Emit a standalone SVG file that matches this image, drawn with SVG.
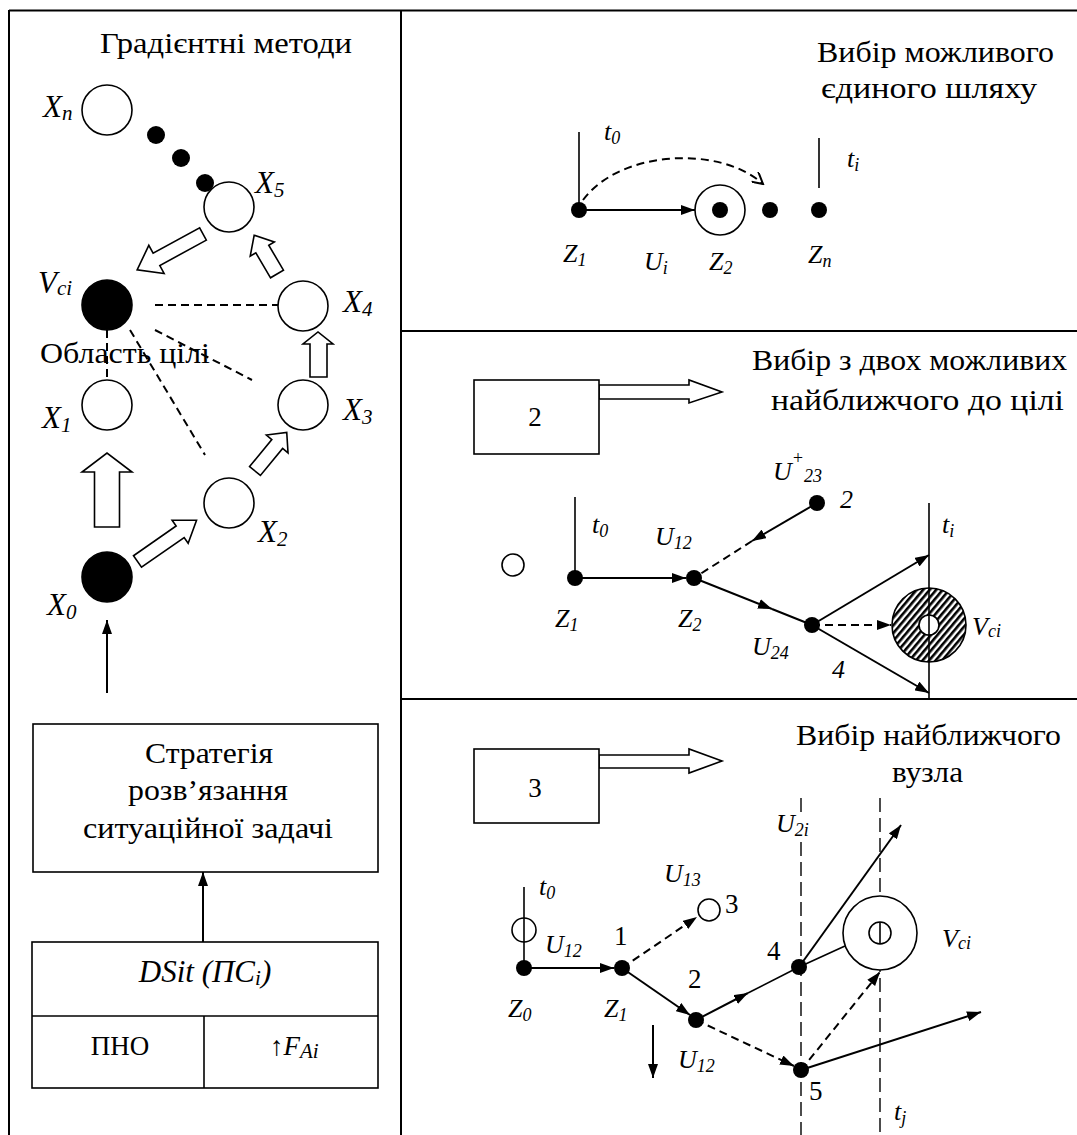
<svg xmlns="http://www.w3.org/2000/svg" width="1077" height="1135" viewBox="0 0 1077 1135">
<style>
.t{font-family:'Liberation Serif','Times New Roman',serif;font-size:30px;fill:#000}
.l{font-family:'Liberation Serif','Times New Roman',serif;font-size:26px;font-style:italic;fill:#000}
.lx{font-family:'Liberation Serif','Times New Roman',serif;font-size:31px;font-style:italic;fill:#000}
.n{font-family:'Liberation Serif','Times New Roman',serif;font-size:27px;fill:#000}
.s{font-size:18px}
.sx{font-size:21px}
.c{fill:#fff;stroke:#000;stroke-width:1.6}
.f{fill:#000;stroke:#000;stroke-width:1.6}
.d{fill:#000}
.ln{stroke:#000;stroke-width:1.6;fill:none}
.ar{stroke:#000;stroke-width:2;fill:none}
.ds{stroke:#000;stroke-width:2;fill:none;stroke-dasharray:8 5}
.vd{stroke:#000;stroke-width:1.4;fill:none;stroke-dasharray:14 6}
.blk{fill:#fff;stroke:#000;stroke-width:1.6;stroke-linejoin:miter}
.fr{stroke:#000;stroke-width:2;fill:none}
</style>
<defs>
<marker id="ah" viewBox="0 0 14 10" refX="14" refY="5" markerWidth="14" markerHeight="10" orient="auto" markerUnits="userSpaceOnUse"><path d="M0,0 L14,5 L0,10 z" fill="#000"/></marker>
<marker id="oh" viewBox="0 0 14 12" refX="12" refY="6" markerWidth="14" markerHeight="12" orient="auto" markerUnits="userSpaceOnUse"><path d="M0,0 L12,6 L2,12" fill="none" stroke="#000" stroke-width="2"/></marker>
<pattern id="hatch" width="5" height="5" patternUnits="userSpaceOnUse" patternTransform="rotate(40)"><rect width="5" height="5" fill="#fff"/><rect width="2.6" height="5" fill="#000"/></pattern>
</defs>

<g id="frame">
<path class="fr" d="M9,10.5 H1077 M9,10 V1135 M401,10 V1135 M401,331 H1077 M401,699 H1077"/>
</g>

<g id="left-title"><text class="t" x="100" y="53" textLength="252" lengthAdjust="spacingAndGlyphs">Градієнтні методи</text></g>

<g id="connectors">
<line class="ds" x1="155" y1="305" x2="278" y2="305"/>
<line class="ds" x1="107" y1="330" x2="107" y2="380"/>
<line class="ds" x1="130" y1="330" x2="205" y2="455"/>
<line class="ds" x1="155" y1="330" x2="252" y2="380"/>
<polygon class="blk" transform="translate(203,234) rotate(151.4)" points="0,-7 53,-7 53,-16 75,0 53,16 53,7 0,7"/>
<polygon class="blk" transform="translate(277,274) rotate(-120.5)" points="0,-7.5 29,-7.5 29,-14 45,0 29,14 29,7.5 0,7.5"/>
<polygon class="blk" points="310,377 310,344 303,344 318,332 333,344 327,344 327,377"/>
<polygon class="blk" points="94.5,527 94.5,472 82,472 107,453 132,472 119.5,472 119.5,527"/>
<polygon class="blk" transform="translate(137.5,561.5) rotate(-34.9)" points="0,-7 52,-7 52,-14 72,0 52,14 52,7 0,7"/>
<polygon class="blk" transform="translate(255,471) rotate(-50.6)" points="0,-7 35,-7 35,-14 50,0 35,14 35,7 0,7"/>
<line class="ar" x1="107" y1="693" x2="107" y2="620" marker-end="url(#ah)"/>
<line class="ar" x1="203" y1="942" x2="203" y2="872" marker-end="url(#ah)"/>
<line class="ln" x1="579" y1="132" x2="579" y2="210"/>
<line class="ln" x1="819" y1="138" x2="819" y2="188"/>
<line class="ar" x1="579" y1="210" x2="695" y2="210" marker-end="url(#ah)"/>
<path class="ds" d="M583,200 C620,150 720,145 763,184" marker-end="url(#oh)"/>
<polygon class="blk" points="599,385 689,385 689,380 722,392 689,403 689,399 599,399"/>
<line class="ln" x1="575" y1="497" x2="575" y2="578"/>
<line class="ar" x1="575" y1="578" x2="686" y2="578" marker-end="url(#ah)"/>
<line class="ar" x1="817" y1="503" x2="752" y2="541" marker-end="url(#ah)"/>
<line class="ds" x1="752" y1="541" x2="694" y2="578"/>
<line class="ar" x1="694" y1="578" x2="772" y2="609" marker-end="url(#ah)"/>
<line class="ar" x1="772" y1="609" x2="812" y2="625"/>
<line class="ar" x1="812" y1="625" x2="929" y2="555" marker-end="url(#ah)"/>
<line class="ar" x1="812" y1="625" x2="929" y2="693" marker-end="url(#ah)"/>
<line class="ds" x1="812" y1="625" x2="891" y2="625" marker-end="url(#ah)"/>
<polygon class="blk" points="599,755 689,755 689,749 722,761 689,773 689,768 599,768"/>
<line class="ln" x1="524" y1="887" x2="524" y2="968"/>
<line class="ar" x1="524" y1="968" x2="614" y2="968" marker-end="url(#ah)"/>
<line class="ds" x1="622" y1="968" x2="697" y2="917" marker-end="url(#ah)"/>
<line class="ar" x1="622" y1="968" x2="690" y2="1015" marker-end="url(#ah)"/>
<line class="ar" x1="696" y1="1020" x2="748" y2="993" marker-end="url(#ah)"/>
<line class="ln" x1="748" y1="993" x2="799" y2="967"/>
<line class="ds" x1="696" y1="1020" x2="794" y2="1066" marker-end="url(#ah)"/>
<line class="ar" x1="653" y1="1025" x2="653" y2="1078" marker-end="url(#ah)"/>
<line class="vd" x1="801" y1="798" x2="801" y2="813"/>
<line class="vd" x1="801" y1="842" x2="801" y2="1135"/>
<line class="vd" x1="880" y1="798" x2="880" y2="1135"/>
<line class="ar" x1="799" y1="967" x2="901" y2="825" marker-end="url(#ah)"/>
<line class="ln" x1="799" y1="967" x2="845" y2="946"/>
<line class="ds" x1="801" y1="1070" x2="880" y2="972" marker-end="url(#ah)"/>
<line class="ar" x1="801" y1="1070" x2="981" y2="1012" marker-end="url(#ah)"/>
</g>

<g id="node-Xn"><circle class="c" cx="107" cy="110" r="25"/><text class="lx" x="43" y="117">X<tspan class="sx" dy="3">n</tspan></text></g>
<g id="dots-left"><circle class="d" cx="156" cy="135" r="9"/><circle class="d" cx="181" cy="158" r="9"/><circle class="d" cx="205" cy="183" r="9"/></g>
<g id="node-X5"><circle class="c" cx="229" cy="207" r="25"/><text class="lx" x="255" y="193">X<tspan class="sx" dy="4">5</tspan></text></g>
<g id="node-Vci"><circle class="f" cx="107" cy="305" r="25"/><text class="lx" x="38" y="293">V<tspan class="sx" dy="2">ci</tspan></text></g>
<g id="node-X4"><circle class="c" cx="303" cy="306" r="25"/><text class="lx" x="343" y="312">X<tspan class="sx" dy="4">4</tspan></text></g>
<g id="label-goal"><text class="t" x="40" y="363" textLength="170" lengthAdjust="spacingAndGlyphs">Область цілі</text></g>
<g id="node-X1"><circle class="c" cx="107" cy="405" r="25"/><text class="lx" x="42" y="428">X<tspan class="sx" dy="4">1</tspan></text></g>
<g id="node-X3"><circle class="c" cx="303" cy="405" r="25"/><text class="lx" x="343" y="420">X<tspan class="sx" dy="4">3</tspan></text></g>
<g id="node-X2"><circle class="c" cx="229" cy="503" r="25"/><text class="lx" x="258" y="542">X<tspan class="sx" dy="4">2</tspan></text></g>
<g id="node-X0"><circle class="f" cx="107" cy="577" r="25"/><text class="lx" x="47" y="615">X<tspan class="sx" dy="4">0</tspan></text></g>

<g id="node-strategy">
<rect class="c" x="33" y="724" width="345" height="148"/>
<text class="t" x="145" y="763" textLength="128" lengthAdjust="spacingAndGlyphs">Стратегія</text>
<text class="t" x="128" y="800" textLength="160" lengthAdjust="spacingAndGlyphs">розв’язання</text>
<text class="t" x="83" y="838" textLength="250" lengthAdjust="spacingAndGlyphs">ситуаційної задачі</text>
</g>
<g id="node-dsit">
<rect class="c" x="32" y="942" width="346" height="146"/>
<line class="ln" x1="32" y1="1016" x2="378" y2="1016"/>
<line class="ln" x1="204" y1="1016" x2="204" y2="1088"/>
<text class="lx" x="205" y="982" text-anchor="middle">DSit (ПС<tspan class="sx" dy="3">i</tspan><tspan dy="-3">)</tspan></text>
<text class="n" x="120" y="1055" text-anchor="middle" font-size="31">ПНО</text>
<text class="n" x="270" y="1055" font-size="30">↑<tspan font-style="italic">F</tspan><tspan class="sx" font-style="italic" dy="3">Ai</tspan></text>
</g>

<g id="p1-title"><text class="t" x="817" y="62" textLength="237" lengthAdjust="spacingAndGlyphs">Вибір можливого</text><text class="t" x="821" y="98" textLength="216" lengthAdjust="spacingAndGlyphs">єдиного шляху</text></g>
<g id="p1-Z1"><circle class="d" cx="579" cy="210" r="8"/><text class="l" x="563" y="262">Z<tspan class="s" dy="4">1</tspan></text><text class="l" x="604" y="140">t<tspan class="s" dy="4">0</tspan></text></g>
<g id="p1-Z2"><circle class="c" cx="720" cy="210" r="25"/><circle class="d" cx="720" cy="210" r="8"/><text class="l" x="709" y="270">Z<tspan class="s" dy="4">2</tspan></text></g>
<g id="p1-Ui"><text class="l" x="644" y="270">U<tspan class="s" dy="4">i</tspan></text></g>
<g id="p1-dot"><circle class="d" cx="770" cy="210" r="8"/></g>
<g id="p1-Zn"><circle class="d" cx="819" cy="210" r="8"/><text class="l" x="808" y="263">Z<tspan class="s" dy="4">n</tspan></text><text class="l" x="847" y="167">t<tspan class="s" dy="4">i</tspan></text></g>

<g id="p2-box"><rect class="c" x="474" y="380" width="125" height="74"/><text class="n" x="535" y="426" text-anchor="middle" font-size="29">2</text></g>
<g id="p2-title"><text class="t" x="752" y="370" textLength="315" lengthAdjust="spacingAndGlyphs">Вибір з двох можливих</text><text class="t" x="771" y="410" textLength="293" lengthAdjust="spacingAndGlyphs">найближчого до цілі</text></g>
<g id="p2-start"><circle class="c" cx="513" cy="565" r="11"/></g>
<g id="p2-Z1"><circle class="d" cx="575" cy="578" r="8"/><text class="l" x="555" y="627">Z<tspan class="s" dy="4">1</tspan></text><text class="l" x="592" y="533">t<tspan class="s" dy="4">0</tspan></text></g>
<g id="p2-Z2"><circle class="d" cx="694" cy="578" r="8"/><text class="l" x="678" y="627">Z<tspan class="s" dy="4">2</tspan></text><text class="l" x="655" y="545">U<tspan class="s" dy="4">12</tspan></text></g>
<g id="p2-n2"><circle class="d" cx="817" cy="503" r="8"/><text class="l" x="840" y="508">2</text><text class="l" x="773" y="480">U<tspan class="s" dy="-16">+</tspan><tspan class="s" dy="18">23</tspan></text></g>
<g id="p2-n4"><circle class="d" cx="812" cy="625" r="8"/><text class="l" x="832" y="678">4</text><text class="l" x="752" y="655">U<tspan class="s" dy="4">24</tspan></text></g>
<g id="p2-Vci">
<circle cx="929" cy="625" r="37" fill="url(#hatch)" stroke="#000" stroke-width="1.6"/>
<circle class="c" cx="929" cy="625" r="10"/>
<line class="ln" x1="929" y1="503" x2="929" y2="699"/>
<text class="l" x="972" y="635">V<tspan class="s" dy="2">ci</tspan></text>
<text class="l" x="942" y="533">t<tspan class="s" dy="4">i</tspan></text>
</g>

<g id="p3-box"><rect class="c" x="474" y="749" width="125" height="74"/><text class="n" x="535" y="797" text-anchor="middle" font-size="29">3</text></g>
<g id="p3-title"><text class="t" x="796" y="745" textLength="265" lengthAdjust="spacingAndGlyphs">Вибір найближчого</text><text class="t" x="892" y="782" textLength="71" lengthAdjust="spacingAndGlyphs">вузла</text></g>
<g id="p3-Z0"><circle class="c" cx="524" cy="930" r="12"/><line class="ln" x1="524" y1="918" x2="524" y2="942"/><circle class="d" cx="524" cy="968" r="8"/><text class="l" x="508" y="1017">Z<tspan class="s" dy="4">0</tspan></text><text class="l" x="539" y="895">t<tspan class="s" dy="4">0</tspan></text><text class="l" x="545" y="953">U<tspan class="s" dy="4">12</tspan></text></g>
<g id="p3-Z1"><circle class="d" cx="622" cy="968" r="8"/><text class="l" x="604" y="1017">Z<tspan class="s" dy="4">1</tspan></text><text class="n" x="614" y="945">1</text></g>
<g id="p3-n3"><circle class="c" cx="709" cy="910" r="11"/><text class="n" x="725" y="913">3</text><text class="l" x="664" y="882">U<tspan class="s" dy="4">13</tspan></text></g>
<g id="p3-n2"><circle class="d" cx="696" cy="1020" r="8"/><text class="n" x="688" y="988">2</text><text class="l" x="678" y="1068">U<tspan class="s" dy="4">12</tspan></text></g>
<g id="p3-n4"><circle class="d" cx="799" cy="967" r="8"/><text class="n" x="767" y="960">4</text><text class="l" x="776" y="832">U<tspan class="s" dy="4">2i</tspan></text></g>
<g id="p3-n5"><circle class="d" cx="801" cy="1070" r="8"/><text class="n" x="809" y="1100">5</text><text class="l" x="894" y="1120">t<tspan class="s" dy="4">j</tspan></text></g>
<g id="p3-Vci"><circle class="c" cx="880" cy="933" r="37"/><circle class="c" cx="880" cy="933" r="11"/><line class="ln" x1="880" y1="922" x2="880" y2="944"/><text class="l" x="942" y="947">V<tspan class="s" dy="2">ci</tspan></text></g>
</svg>
